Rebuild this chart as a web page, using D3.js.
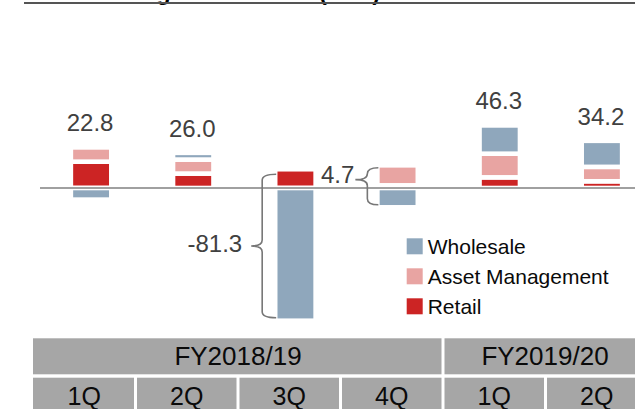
<!DOCTYPE html>
<html>
<head>
<meta charset="utf-8">
<script src="https://cdn.jsdelivr.net/npm/d3@7/dist/d3.min.js"></script>
<style>
  html, body { margin: 0; padding: 0; background: #fff; }
  svg { display: block; font-family: Arial, "Liberation Sans", sans-serif; }
</style>
</head>
<body>
<svg id="chart" width="635" height="409"></svg>
<script>
// ---- Data (billion yen) ----
const quarters = ["1Q", "2Q", "3Q", "4Q", "1Q", "2Q"];
const fiscalYears = ["FY2018/19", "FY2019/20"];
const fiscalSpans = [4, 2];
const segments = ["Retail", "Asset Management", "Wholesale"];
const retail = [18.8, 10.3, 13.4, 1.9, 7.6, 4.8];
const assetMgmt = [10.2, 10.0, 0.0, 14.3, 16.9, 10.3];
const wholesale = [-8.3, 4.8, -94.8, -13.8, 20.2, 18.6];
const totals = [22.8, 26.0, -81.3, 4.7, 46.3, 34.2];
const legendOrder = ["Wholesale", "Asset Management", "Retail"];
const titleText = "Three segment income (loss) before income taxes";

const colors = {
  "Retail": "#CC2424",
  "Asset Management": "#E8A4A2",
  "Wholesale": "#8FA7BC"
};

const svg = d3.select("#chart");
const W = 635, H = 409;

// title (cut off at top in reference)
svg.append("text")
  .attr("x", 62).attr("y", 0)
  .attr("font-size", 23).attr("font-weight", "bold")
  .attr("fill", "#000")
  .text(titleText);
svg.append("line")
  .attr("x1", 24).attr("x2", W).attr("y1", 3).attr("y2", 3)
  .attr("stroke", "#555").attr("stroke-width", 2);

// scales
const idx = d3.range(quarters.length);
const x = d3.scaleBand().domain(idx).range([40, 653]).paddingInner(0.604).paddingOuter(0.302);
const y = d3.scaleLinear().domain([-100, 60]).range([328, 104]);

const table = idx.map(i => ({
  i,
  "Retail": retail[i],
  "Asset Management": assetMgmt[i],
  "Wholesale": wholesale[i]
}));
const stack = d3.stack().keys(segments).offset(d3.stackOffsetDiverging);
const series = stack(table);

const gBars = svg.append("g");
series.forEach(s => {
  gBars.selectAll(null)
    .data(s)
    .enter().append("rect")
    .attr("x", d => x(d.data.i))
    .attr("width", x.bandwidth())
    .attr("y", d => y(Math.max(d[0], d[1])))
    .attr("height", d => Math.abs(y(d[0]) - y(d[1])))
    .attr("fill", colors[s.key])
    .attr("stroke", "#fff")
    .attr("stroke-width", 4.6);
});

// zero line
svg.append("line")
  .attr("x1", 40).attr("x2", W)
  .attr("y1", y(0)).attr("y2", y(0))
  .attr("stroke", "#A0A0A0").attr("stroke-width", 2);

// extents per bar
const posTop = idx.map(i => d3.sum([retail[i], assetMgmt[i], wholesale[i]].filter(v => v > 0)));
const negBot = idx.map(i => d3.sum([retail[i], assetMgmt[i], wholesale[i]].filter(v => v < 0)));

const fmt = v => d3.format(".1f")(v).replace("\u2212", "-");

// braces for the bars whose totals sit beside them
const braceSpecs = [
  { i: 2, depth: 14, tip: 11, tipFrac: 0.5, topInset: 5, botInset: 3, textGap: 9, textDy: 6 },
  { i: 3, depth: 11, tip: 12, tipFrac: 0.32, topInset: 2.5, botInset: 2.5, textGap: 1, textDy: 3 }
];
const braced = new Set(braceSpecs.map(b => b.i));

// total labels above bars
idx.forEach(i => {
  if (!braced.has(i)) {
    svg.append("text")
      .attr("x", x(i) + x.bandwidth() / 2 - 1)
      .attr("y", y(posTop[i]) - 16)
      .attr("text-anchor", "middle")
      .attr("font-size", 24)
      .attr("fill", "#404040")
      .text(fmt(totals[i]));
  }
});

function brace(xr, x0, xt, yTop, yBot, yTip, r) {
  return `M${xr},${yTop} Q${x0},${yTop} ${x0},${yTop + r} L${x0},${yTip - r} Q${x0},${yTip} ${xt},${yTip}` +
         ` Q${x0},${yTip} ${x0},${yTip + r} L${x0},${yBot - r} Q${x0},${yBot} ${xr},${yBot}`;
}
braceSpecs.forEach(b => {
  const xr = x(b.i) + 1;
  const x0 = xr - b.depth;
  const xt = x0 - b.tip;
  const yTop = y(posTop[b.i]) + b.topInset;
  const yBot = y(negBot[b.i]) - b.botInset;
  const yTip = yTop + (yBot - yTop) * b.tipFrac;
  const r = Math.min(6, (yBot - yTop) / 4);
  svg.append("path")
    .attr("d", brace(xr, x0, xt, yTop, yBot, yTip, r))
    .attr("fill", "none")
    .attr("stroke", "#777")
    .attr("stroke-width", 1.6);
  svg.append("text")
    .attr("x", xt - b.textGap)
    .attr("y", yTip + b.textDy)
    .attr("text-anchor", "end")
    .attr("font-size", 24)
    .attr("fill", "#404040")
    .text(fmt(totals[b.i]));
});

// legend
const lg = svg.append("g").attr("transform", "translate(406.7,238.3)");
legendOrder.forEach((k, j) => {
  const g = lg.append("g").attr("transform", `translate(0,${j * 30})`);
  g.append("rect").attr("width", 16).attr("height", 16).attr("fill", colors[k]);
  g.append("text").attr("x", 21).attr("y", 15.5)
    .attr("font-size", 21).attr("fill", "#0a0a0a").text(k);
});

// category table
const tx = d3.scaleBand().domain(idx).range([33, 648]);
const row1 = { y: 338.3, h: 36 };
const row2 = { y: 377.7, h: 40 };
const cellFill = "#A6A6A6";
let start = 0;
fiscalYears.forEach((fy, j) => {
  const x0 = tx(start);
  const x1 = tx(start + fiscalSpans[j] - 1) + tx.bandwidth();
  svg.append("rect")
    .attr("x", x0 + (j > 0 ? 1.5 : 0)).attr("y", row1.y)
    .attr("width", x1 - x0 - 1.5 - (j > 0 ? 1.5 : 0)).attr("height", row1.h)
    .attr("fill", cellFill);
  svg.append("text")
    .attr("x", (x0 + Math.min(x1, W + 12)) / 2)
    .attr("y", row1.y + 27)
    .attr("text-anchor", "middle")
    .attr("font-size", 26).attr("fill", "#0a0a0a")
    .text(fy);
  start += fiscalSpans[j];
});
idx.forEach(i => {
  svg.append("rect")
    .attr("x", tx(i) + (i > 0 ? 1.5 : 0)).attr("y", row2.y)
    .attr("width", tx.bandwidth() - 1.5 - (i > 0 ? 1.5 : 0)).attr("height", row2.h)
    .attr("fill", cellFill);
  svg.append("text")
    .attr("x", tx(i) + tx.bandwidth() / 2)
    .attr("y", row2.y + 27)
    .attr("text-anchor", "middle")
    .attr("font-size", 25).attr("fill", "#0a0a0a")
    .text(quarters[i]);
});
</script>
</body>
</html>
